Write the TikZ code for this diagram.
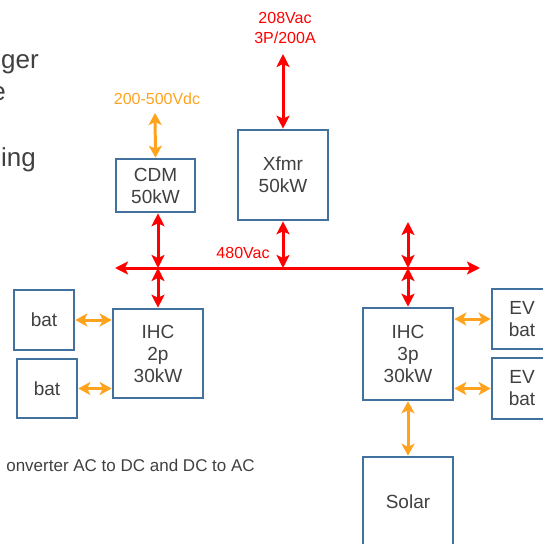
\documentclass[tikz,border=0pt]{standalone}
\usepackage{fontspec}
\setmainfont{Liberation Sans}
\usetikzlibrary{arrows.meta}
\definecolor{boxblue}{RGB}{65,113,156}
\definecolor{txtgray}{RGB}{64,64,64}
\definecolor{acred}{RGB}{255,0,0}
\definecolor{dcorange}{RGB}{255,163,30}
\begin{document}
\begin{tikzpicture}[x=1pt,y=-1pt,
  blk/.style={draw=boxblue,line width=2.6pt,fill=white,text=txtgray,
    font=\fontsize{19}{22}\selectfont,align=center,inner sep=0pt},
  acline/.style={draw=acred,line width=3pt,
    {Stealth[length=13pt,width=13pt,inset=3pt]}-{Stealth[length=13pt,width=13pt,inset=3pt]}},
  dcline/.style={draw=dcorange,line width=3pt,
    {Stealth[length=12pt,width=13pt,inset=3pt]}-{Stealth[length=12pt,width=13pt,inset=3pt]}},
  lbl/.style={font=\fontsize{16}{20}\selectfont,inner sep=0pt,align=center},
  bigtxt/.style={font=\fontsize{26}{31}\selectfont,text=txtgray,inner sep=0pt,anchor=base east},
  bodytxt/.style={font=\fontsize{17}{20}\selectfont,text=txtgray,inner sep=0pt,anchor=base east}
]
\useasboundingbox (0,0) rectangle (543,544);
\clip (0,0) rectangle (543,544);

% boxes
\node[blk,minimum width=79pt,minimum height=53pt] (cdm) at (155.5,185.5) {CDM\\50kW};
\node[blk,minimum width=90pt,minimum height=90pt] (xfmr) at (283,175) {Xfmr\\50kW};
\node[blk,minimum width=90pt,minimum height=89pt] (ihcl) at (158,353.5) {IHC\\2p\\30kW};
\node[blk,minimum width=90pt,minimum height=92pt] (ihcr) at (408,354) {IHC\\3p\\30kW};
\node[blk,minimum width=60pt,minimum height=60pt] (bat1) at (44,320) {bat};
\node[blk,minimum width=60pt,minimum height=59pt] (bat2) at (47,388.5) {bat};
\node[blk,minimum width=60pt,minimum height=60pt] (ev1) at (522,319) {EV\\bat};
\node[blk,minimum width=60pt,minimum height=61pt] (ev2) at (522,388.5) {EV\\bat};
\node[blk,minimum width=90pt,minimum height=90pt] (solar) at (408,502) {Solar};

% labels
\node[lbl,text=dcorange] (vdc) at (157,99) {200-500Vdc};
\node[lbl,text=acred] (v208) at (285,28) {208Vac\\3P/200A};
\node[lbl,text=acred] (v480) at (243,253) {480Vac};

% bus
\coordinate (busL) at (115,268);
\coordinate (busR) at (480,268);
\draw[acline] (busL) -- (busR);
\coordinate (jl) at (ihcl.north |- busL);
\coordinate (jx) at (xfmr.south |- busL);
\coordinate (jr) at (ihcr.north |- busL);

% free ends
\coordinate (vdctop) at (155,113);
\coordinate (xtop) at (283,54);
\coordinate (rtop) at (408,222);

% AC connections
\draw[acline] (xtop) -- (xfmr.north);
\draw[acline] (xfmr.south) -- (jx);
\draw[acline] (cdm.south -| ihcl.north) -- (jl);
\draw[acline] (jl) -- (ihcl.north);
\draw[acline] (rtop) -- (jr);
\draw[acline] (jr) -- (ihcr.north);

% DC connections
\draw[dcline] (vdctop) -- (cdm.north);
\draw[dcline] (bat1.east) -- (bat1.east -| ihcl.west);
\draw[dcline] (bat2.east) -- (bat2.east -| ihcl.west);
\draw[dcline] (ev1.west -| ihcr.east) -- (ev1.west);
\draw[dcline] (ev2.west -| ihcr.east) -- (ev2.west);
\draw[dcline] (ihcr.south) -- (solar.north);

% slide text fragments
\node[bigtxt] (t1) at (39,68) {ger};
\node[bigtxt] (t2) at (6,100) {e};
\node[bigtxt] (t3) at (36,166) {ing};
\node[bodytxt] (t4) at (255,471) {onverter AC to DC and DC to AC};
\end{tikzpicture}
\end{document}
